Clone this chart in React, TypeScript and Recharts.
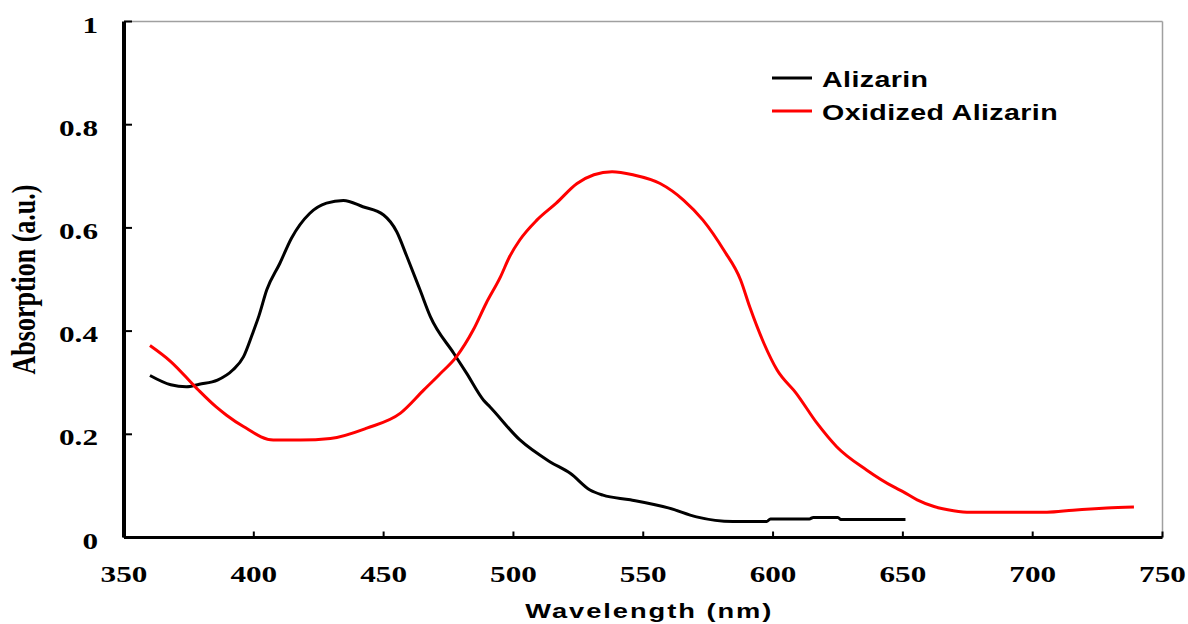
import React from 'react'
import { LineChart, Line, XAxis, YAxis, ReferenceLine, Legend, Label } from 'recharts'

// wavelength (nm) and absorption
const alizarinNm = [360, 368, 374, 379, 386, 392, 396, 399.5, 402, 405, 410, 414.5, 421.5, 428, 434.5, 442, 450, 455, 459, 464, 468, 477, 482, 488.5, 491, 502.5, 514, 522, 529.5, 534.5, 545, 560, 570.5, 584.5, 597.5, 599, 614, 615.5, 625, 626, 651]
const alizarinAbs = [0.314, 0.296, 0.292, 0.297, 0.305, 0.325, 0.35, 0.395, 0.43, 0.48, 0.531, 0.58, 0.628, 0.648, 0.653, 0.641, 0.625, 0.593, 0.544, 0.48, 0.428, 0.357, 0.318, 0.266, 0.253, 0.189, 0.147, 0.124, 0.092, 0.082, 0.073, 0.057, 0.04, 0.031, 0.031, 0.036, 0.036, 0.039, 0.039, 0.035, 0.035]

const oxidizedNm = [360, 368, 378, 385.5, 389.5, 396, 407.5, 418, 429.5, 443.5, 456.5, 465.5, 471.5, 478, 484.5, 489.5, 495, 498.5, 502.5, 509, 516.5, 524.5, 531, 538, 546, 556.5, 565.5, 573, 581, 587.5, 591, 596.5, 601.5, 609, 617, 624.5, 636, 646.5, 650, 655.5, 662, 669.5, 676, 705.5, 715.5, 728.5, 739]
const oxidizedAbs = [0.372, 0.341, 0.289, 0.253, 0.237, 0.215, 0.189, 0.189, 0.192, 0.212, 0.241, 0.286, 0.316, 0.35, 0.402, 0.454, 0.505, 0.544, 0.577, 0.615, 0.648, 0.686, 0.703, 0.709, 0.703, 0.686, 0.654, 0.615, 0.557, 0.499, 0.447, 0.376, 0.325, 0.279, 0.221, 0.176, 0.131, 0.098, 0.089, 0.073, 0.06, 0.052, 0.049, 0.049, 0.053, 0.057, 0.059]

const xTicks = [350, 400, 450, 500, 550, 600, 650, 700, 750]
const yTicks = [0, 0.2, 0.4, 0.6, 0.8, 1]
const seriesNames = ['Alizarin', 'Oxidized Alizarin']
const seriesColors = ['#000000', '#ff0000']

const alizarinData = alizarinNm.map((nm, i) => ({ nm, abs: alizarinAbs[i] }))
const oxidizedData = oxidizedNm.map((nm, i) => ({ nm, abs: oxidizedAbs[i] }))

const serif = '"Liberation Serif", "Times New Roman", serif'
const sans = '"Liberation Sans", Arial, sans-serif'

const XTick = ({ x, y, payload }: any) => (
  <g transform={`translate(${x},${y + 50})`}>
    <text transform="scale(1.3,1)" textAnchor="middle" fill="#000" fontFamily={serif} fontWeight="bold" fontSize={24}>
      {payload.value}
    </text>
  </g>
)

const YTick = ({ x, y, payload }: any) => (
  <g transform={`translate(${x},${y + 11})`}>
    <text transform="scale(1.3,1)" textAnchor="end" fill="#000" fontFamily={serif} fontWeight="bold" fontSize={24}>
      {payload.value}
    </text>
  </g>
)

const LegendBox = () => (
  <div style={{ fontFamily: sans, fontWeight: 'bold', fontSize: 22, color: '#000' }}>
    {seriesNames.map((name, i) => (
      <div key={name} style={{ display: 'flex', alignItems: 'center', height: 33 }}>
        <svg width={40} height={4} style={{ display: 'block' }}>
          <line x1={0} y1={2} x2={40} y2={2} stroke={seriesColors[i]} strokeWidth={3} />
        </svg>
        <span style={{ marginLeft: 10, paddingTop: 4, display: 'inline-block', transform: 'scaleX(1.3)', transformOrigin: 'left center', letterSpacing: 0.3, whiteSpace: 'nowrap' }}>
          {name}
        </span>
      </div>
    ))}
  </div>
)

export default function App() {
  return (
    <div style={{ position: 'absolute', left: 0, top: 0, background: '#fff' }}>
      <LineChart width={1188} height={624} margin={{ top: 21.5, right: 25.5, bottom: 26.5, left: 0 }}>
        <XAxis
          type="number"
          dataKey="nm"
          domain={[350, 750]}
          ticks={xTicks}
          allowDataOverflow
          height={60}
          axisLine={{ stroke: '#000', strokeWidth: 3 }}
          tickLine={{ stroke: '#000', strokeWidth: 2 }}
          tickSize={-6}
          tickMargin={0}
          tick={<XTick />}
        >
          <Label
            content={({ viewBox }: any) => (
              <g transform={`translate(${viewBox.x + viewBox.width / 2 + 6},${618})`}>
                <text transform="scale(1.3,1)" textAnchor="middle" fill="#000" fontFamily={sans} fontWeight="bold" fontSize={21} letterSpacing={1.5}>
                  Wavelength (nm)
                </text>
              </g>
            )}
          />
        </XAxis>
        <YAxis
          type="number"
          domain={[0, 1]}
          ticks={yTicks}
          width={124}
          axisLine={{ stroke: '#000', strokeWidth: 4 }}
          tickLine={{ stroke: '#000', strokeWidth: 2 }}
          tickSize={-8}
          tickMargin={34}
          tick={<YTick />}
        >
          <Label
            content={({ viewBox }: any) => (
              <g transform={`translate(35,${viewBox.y + viewBox.height / 2})`}>
                <text transform="scale(1.3,1) rotate(-90)" textAnchor="middle" fill="#000" fontFamily={serif} fontWeight="bold" fontSize={26}>
                  Absorption (a.u.)
                </text>
              </g>
            )}
          />
        </YAxis>
        <ReferenceLine y={1} stroke="#a0a0a0" strokeWidth={1.5} />
        <ReferenceLine x={750} stroke="#a0a0a0" strokeWidth={1.5} />
        <Line data={alizarinData} dataKey="abs" name={seriesNames[0]} stroke={seriesColors[0]} strokeWidth={3} dot={false} type="monotone" isAnimationActive={false} />
        <Line data={oxidizedData} dataKey="abs" name={seriesNames[1]} stroke={seriesColors[1]} strokeWidth={3} dot={false} type="monotone" isAnimationActive={false} />
        <Legend
          layout="vertical"
          align="center"
          verticalAlign="middle"
          content={<LegendBox />}
          wrapperStyle={{ left: 772, top: 61, width: 320 }}
        />
      </LineChart>
    </div>
  )
}
